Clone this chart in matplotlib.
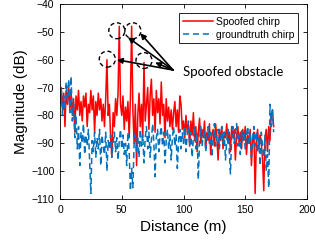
import numpy as np
import matplotlib.pyplot as plt
from matplotlib.patches import Ellipse

plt.rcParams['font.family'] = ['Liberation Sans', 'DejaVu Sans']

# distancia (m), um ponto por metro
distancia = np.arange(0, 174)

# curva falsificada (dB)
spoofed = [
    -74, -70, -78, -72, -84, -71, -76, -69, -78, -72,
    -80, -74, -86, -73, -78, -71, -80, -75, -82, -73,
    -77, -72, -84, -76, -79, -71, -78, -73, -86, -75,
    -80, -72, -78, -74, -82, -76, -84, -74, -60, -80,
    -76, -88, -95, -79, -84, -74, -80, -72, -48, -76,
    -80, -73, -85, -77, -82, -75, -88, -74, -48, -78,
    -90, -76, -98, -80, -72, -84, -76, -88, -61, -82,
    -76, -70, -85, -73, -67, -80, -74, -86, -71, -79,
    -74, -83, -68, -80, -76, -88, -74, -82, -77, -84,
    -78, -85, -79, -75, -84, -78, -86, -73, -76, -85,
    -82, -88, -80, -86, -83, -91, -82, -87, -79, -89,
    -84, -93, -86, -81, -90, -85, -88, -82, -92, -86,
    -89, -83, -94, -87, -85, -91, -83, -88, -96, -85,
    -89, -84, -92, -86, -88, -83, -90, -86, -93, -84,
    -88, -85, -96, -87, -84, -90, -86, -92, -85, -89,
    -84, -94, -87, -90, -85, -98, -88, -86, -108, -89,
    -85, -92, -87, -90, -96, -107, -88, -85, -93, -84,
    -89, -80, -78, -84,
]

# curva de referencia (dB)
groundtruth = [
    -76, -70, -80, -73, -78, -68, -75, -67, -79, -66,
    -82, -76, -88, -80, -92, -84, -98, -86, -90, -83,
    -94, -87, -91, -85, -97, -108, -89, -93, -86, -95,
    -88, -92, -85, -98, -87, -91, -94, -86, -100, -89,
    -92, -87, -95, -90, -86, -93, -88, -96, -89, -85,
    -92, -87, -94, -90, -98, -86, -93, -107, -99, -106,
    -90, -86, -93, -88, -95, -85, -91, -87, -97, -88,
    -84, -92, -86, -95, -89, -83, -90, -102, -88, -85,
    -93, -87, -84, -91, -86, -97, -89, -85, -92, -87,
    -96, -88, -84, -91, -87, -99, -89, -85, -92, -86,
    -90, -84, -93, -87, -82, -91, -86, -95, -88, -84,
    -92, -86, -103, -89, -84, -91, -87, -85, -93, -88,
    -84, -90, -86, -95, -88, -83, -91, -87, -85, -92,
    -88, -84, -90, -86, -96, -89, -85, -92, -101, -88,
    -84, -90, -86, -83, -91, -87, -94, -85, -89, -86,
    -92, -87, -84, -90, -86, -95, -88, -84, -91, -86,
    -93, -88, -98, -86, -91, -95, -87, -100, -94, -106,
    -76, -84, -78, -86,
]

# picos marcados e destino das setas
picos_x = [46, 59, 38.3, 68]
picos_y = [-49.6, -49.6, -59.8, -60.3]
setas_x = [55, 65, 46, 77]
setas_y = [-52, -50.5, -60, -61]

fig = plt.figure(figsize=(3.15, 2.47), dpi=100)
ax = fig.add_axes([0.1905, 0.1943, 0.7841, 0.7895])

ax.plot(distancia, spoofed, color='#ff0000', lw=1.1, label='Spoofed chirp')
ax.plot(distancia, groundtruth, color='#0072bd', lw=1.1, ls=(0, (4, 2.5)),
        label='groundtruth chirp')

for cx, cy in zip(picos_x, picos_y):
    ax.add_patch(Ellipse((cx, cy), 13, 5.7, fill=False, ec='black',
                         lw=1.0, ls=(0, (3, 2)), zorder=5))

for hx, hy in zip(setas_x, setas_y):
    ax.annotate('', xy=(hx, hy), xytext=(91.5, -63.7),
                arrowprops=dict(arrowstyle='-|>', color='black', lw=1.2,
                                mutation_scale=8, shrinkA=0, shrinkB=0),
                zorder=6)
ax.text(99.5, -64.4, 'Spoofed obstacle', fontsize=9.5, family='Lato',
        va='center', ha='left')

ax.set_xlim(0, 200)
ax.set_ylim(-110, -40)
ax.set_xticks([0, 50, 100, 150, 200])
ax.set_yticks(np.arange(-110, -39, 10))
ax.tick_params(direction='in', top=True, right=True, labelsize=7.5,
               length=3, width=0.6, pad=4)
for s in ax.spines.values():
    s.set_linewidth(0.6)
ax.set_xlabel('Distance (m)', fontsize=11, labelpad=4)
ax.set_ylabel('Magnitude (dB)', fontsize=11, labelpad=2)

leg = ax.legend(loc='upper right', bbox_to_anchor=(0.964, 0.954),
                borderaxespad=0, fontsize=7.5, fancybox=False,
                framealpha=1, edgecolor='black', handlelength=2.9,
                handletextpad=0.3, borderpad=0.35, labelspacing=0.3)
leg.get_frame().set_linewidth(0.6)

fig.savefig('out.png', dpi=100)
